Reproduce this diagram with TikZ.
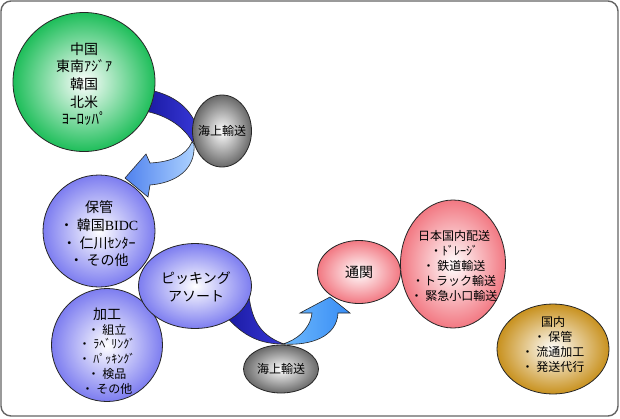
\documentclass[tikz,border=0pt]{standalone}
\usepackage{fontspec}
\setmainfont{Noto Sans CJK JP}
\newfontfamily\serifbidc{Liberation Serif}
\usetikzlibrary{shapes.geometric}
\definecolor{cgreen}{RGB}{30,190,90}
\definecolor{cpurple}{RGB}{125,125,240}
\definecolor{cgray}{RGB}{105,105,105}
\definecolor{cpink}{RGB}{242,120,130}
\definecolor{cgold}{RGB}{200,145,30}
\definecolor{cdarkA}{RGB}{25,25,160}
\definecolor{cdarkB}{RGB}{55,55,215}
\definecolor{clightA}{RGB}{80,130,238}
\definecolor{clightB}{RGB}{175,212,255}
\definecolor{cskyA}{RGB}{110,185,252}
\definecolor{cskyB}{RGB}{55,140,245}
\definecolor{cframe}{RGB}{100,100,100}
\begin{document}
\begin{tikzpicture}[x=1pt,y=-1pt,
  blob/.style={ellipse, draw=black!85, line width=0.8pt, inner sep=0pt, inner color=white},
  txt/.style={align=center, inner sep=0pt, text=black},
  darkband/.style={draw=black!85, line width=0.6pt, left color=cdarkA, right color=cdarkB},
  lightarrow/.style={draw=black!85, line width=0.6pt, left color=clightA, right color=clightB},
  skyarrow/.style={draw=black!85, line width=0.6pt, left color=cskyA, right color=cskyB},
  big/.style={font=\fontsize{14}{17.6}\selectfont},
  mid/.style={font=\fontsize{12}{15}\selectfont}]
\useasboundingbox (0,0) rectangle (620,418);
\draw[cframe, line width=1.4pt, rounded corners=10pt, fill=white] (1,1) rectangle (618,416);

% arrows (drawn below the bubbles)
\draw[darkband] (150,90) .. controls (172,95) and (188,105) .. (197,126)
  -- (193,143) .. controls (185,128) and (168,115) .. (144,111) -- cycle;
\draw[lightarrow] (192,142) .. controls (186,156) and (170,162) .. (150,163)
  -- (146,154) -- (125,178) -- (148,197) -- (150,185)
  .. controls (175,183) and (196,170) .. (194,144) -- cycle;
\draw[darkband] (224,314) .. controls (244,338) and (262,344) .. (284,344)
  .. controls (262,336) and (252,322) .. (249,296) -- cycle;
\draw[skyarrow] (283,344) .. controls (312,346) and (337,336) .. (338,313)
  -- (350,313) -- (330,297) -- (300,313) -- (312,313)
  .. controls (310,330) and (296,340) .. (283,344) -- cycle;

% bubbles
\node[blob, outer color=cgreen, minimum width=142pt, minimum height=139pt] (origin) at (84,82) {};
\node[blob, outer color=cgray, minimum width=59pt, minimum height=72pt] (sea1) at (222,131) {};
\node[blob, outer color=cpurple, minimum width=112pt, minimum height=112pt] (store) at (99,231) {};
\node[blob, outer color=cpurple, minimum width=111pt, minimum height=113pt] (proc) at (107,345) {};
\node[blob, outer color=cpurple, minimum width=113pt, minimum height=85pt] (pick) at (195,286) {};
\node[blob, outer color=cgray, minimum width=75pt, minimum height=48pt] (sea2) at (281,369) {};
\node[blob, outer color=cpink, minimum width=83pt, minimum height=63pt] (customs) at (359,272) {};
\node[blob, outer color=cpink, minimum width=105pt, minimum height=128pt] (deliv) at (453,264) {};
\node[blob, outer color=cgold, minimum width=112pt, minimum height=90pt] (dom) at (553,349) {};

% texts
\node[txt, big] (originT) at (84,84) {中国\\東南ｱｼﾞｱ\\韓国\\北米\\{\fontsize{15}{14}\selectfont ﾖｰﾛｯﾊﾟ}};
\node[txt, mid] (sea1T) at (222,131) {海上輸送};
\node[txt, big] (storeT) at (99,234) {保管\\・ 韓国{\serifbidc BIDC}\\・ 仁川ｾﾝﾀｰ\\・ その他};
\node[txt, font=\fontsize{12}{14.8}\selectfont] (procT) at (107,351) {{\fontsize{14}{14.8}\selectfont 加工}\\・ 組立\\・ ﾗﾍﾞﾘﾝｸﾞ\\・ ﾊﾟｯｷﾝｸﾞ\\・ 検品\\・ その他};
\node[txt, font=\fontsize{14}{18}\selectfont] (pickT) at (196,287) {ピッキング\\アソート};
\node[txt, mid] (sea2T) at (281,369) {海上輸送};
\node[txt, big] (customsT) at (359,272) {通関};
\node[txt, font=\fontsize{12}{15.2}\selectfont] (delivT) at (454,266) {日本国内配送\\・ﾄﾞﾚｰｼﾞ\\・ 鉄道輸送\\・トラック輸送\\・ 緊急小口輸送};
\node[txt, font=\fontsize{12}{15}\selectfont] (domT) at (553,344) {国内\\・ 保管\\・ 流通加工\\・ 発送代行};
\end{tikzpicture}
\end{document}
